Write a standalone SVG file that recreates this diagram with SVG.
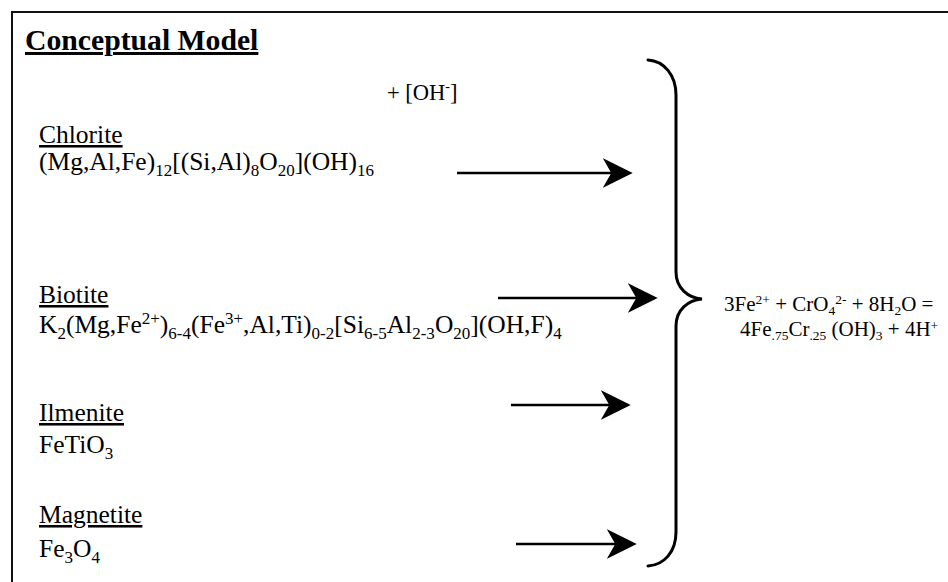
<svg xmlns="http://www.w3.org/2000/svg" width="948" height="582" viewBox="0 0 948 582">
<style>
.t{font-family:"Liberation Serif","Times New Roman",serif;fill:#000}
.m{font-size:25.5px}
.u{text-decoration:underline}
.sb{font-size:17px}
.eq{font-size:21px}
.es{font-size:13.5px}
.frame{stroke:#111;stroke-width:2;fill:none}
.arr{stroke:#000;stroke-width:2.5;fill:none;marker-end:url(#ah)}
.brace{stroke:#000;stroke-width:3;fill:none;stroke-linecap:round}
</style>
<defs>
<marker id="ah" markerUnits="userSpaceOnUse" markerWidth="30" markerHeight="30" viewBox="0 0 28 28" refX="18" refY="14" orient="auto">
<path d="M0,0 L28,14 L0,28 L8,14 Z" fill="#000"/>
</marker>
</defs>
<rect width="948" height="582" fill="#fff"/>
<g id="frame">
<path class="frame" d="M12,582 L12,12 L948,12"/>
</g>
<g id="title">
<text class="t u" x="25" y="50" font-size="29.7" font-weight="bold">Conceptual Model</text>
</g>
<g id="oh">
<text class="t" x="387" y="100" font-size="22.5">+ [OH<tspan font-size="14" dy="-9">-</tspan><tspan dy="9">]</tspan></text>
</g>
<g id="chlorite">
<text class="t m u" x="39" y="143">Chlorite</text>
<text class="t m" x="39" y="170">(Mg,Al,Fe)<tspan class="sb" dy="6">12</tspan><tspan dy="-6">[(Si,Al)</tspan><tspan class="sb" dy="6">8</tspan><tspan dy="-6">O</tspan><tspan class="sb" dy="6">20</tspan><tspan dy="-6">](OH)</tspan><tspan class="sb" dy="6">16</tspan></text>
</g>
<g id="biotite">
<text class="t m u" x="39" y="303">Biotite</text>
<text class="t m" x="39" y="333">K<tspan class="sb" dy="6">2</tspan><tspan dy="-6">(Mg,Fe</tspan><tspan class="sb" dy="-9">2+</tspan><tspan dy="9">)</tspan><tspan class="sb" dy="6">6-4</tspan><tspan dy="-6">(Fe</tspan><tspan class="sb" dy="-9">3+</tspan><tspan dy="9">,Al,Ti)</tspan><tspan class="sb" dy="6">0-2</tspan><tspan dy="-6">[Si</tspan><tspan class="sb" dy="6">6-5</tspan><tspan dy="-6">Al</tspan><tspan class="sb" dy="6">2-3</tspan><tspan dy="-6">O</tspan><tspan class="sb" dy="6">20</tspan><tspan dy="-6">](OH,F)</tspan><tspan class="sb" dy="6">4</tspan></text>
</g>
<g id="ilmenite">
<text class="t m u" x="39" y="421">Ilmenite</text>
<text class="t m" x="39" y="453">FeTiO<tspan class="sb" dy="6">3</tspan></text>
</g>
<g id="magnetite">
<text class="t m u" x="39" y="523">Magnetite</text>
<text class="t m" x="39" y="557">Fe<tspan class="sb" dy="6">3</tspan><tspan dy="-6">O</tspan><tspan class="sb" dy="6">4</tspan></text>
</g>
<g id="connectors">
<line class="arr" x1="457" y1="173" x2="622" y2="173"/>
<line class="arr" x1="498" y1="298" x2="647" y2="298"/>
<line class="arr" x1="511" y1="405" x2="620" y2="405"/>
<line class="arr" x1="516" y1="544" x2="626" y2="544"/>
<path class="brace" d="M648,60 C664,61 676,75 676,95 L676,272 C676,288 688,298 702,299 C688,300 676,310 676,326 L676,532 C676,552 664,565 648,566"/>
</g>
<g id="equation">
<text class="t eq" x="724" y="311">3Fe<tspan class="es" dy="-7">2+</tspan><tspan dy="7"> + CrO</tspan><tspan class="es" dy="4">4</tspan><tspan class="es" dy="-11">2-</tspan><tspan dy="7"> + 8H</tspan><tspan class="es" dy="4">2</tspan><tspan dy="-4">O =</tspan></text>
<text class="t eq" x="740" y="336">4Fe<tspan class="es" dy="4">.75</tspan><tspan dy="-4">Cr</tspan><tspan class="es" dy="4">.25</tspan><tspan dy="-4"> (OH)</tspan><tspan class="es" dy="4">3</tspan><tspan dy="-4"> + 4H</tspan><tspan class="es" dy="-6">+</tspan></text>
</g>
</svg>
